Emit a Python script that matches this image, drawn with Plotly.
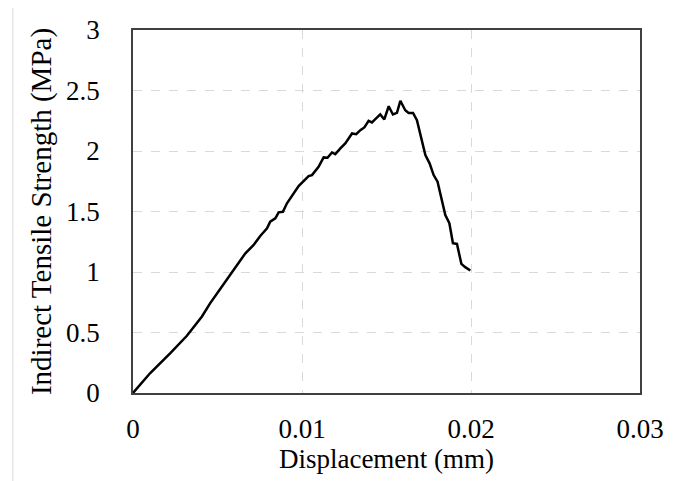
import plotly.graph_objects as go

displacement = [0, 0.00102, 0.00221, 0.00319, 0.00408, 0.00457, 0.00517, 0.00576, 0.00625,
                0.00665, 0.00714, 0.00753, 0.00793, 0.00812, 0.00842, 0.00862, 0.00887, 0.00911,
                0.0098, 0.01039, 0.01059, 0.01098, 0.01128, 0.01151, 0.01177, 0.01197, 0.01227,
                0.01256, 0.01296, 0.01321, 0.01345, 0.01369, 0.01394, 0.01414, 0.01434, 0.01463,
                0.01487, 0.01513, 0.01538, 0.01562, 0.01582, 0.01611, 0.01631, 0.01657, 0.0168,
                0.01704, 0.0173, 0.01755, 0.01779, 0.01802, 0.01828, 0.01848, 0.01872, 0.01893,
                0.01917, 0.01943, 0.01966, 0.01996]
strength = [0, 0.165, 0.33, 0.473, 0.632, 0.743, 0.861, 0.976, 1.073,
            1.155, 1.224, 1.298, 1.361, 1.416, 1.444, 1.493, 1.498, 1.568,
            1.71, 1.793, 1.801, 1.87, 1.947, 1.944, 1.988, 1.974, 2.021,
            2.063, 2.145, 2.139, 2.172, 2.195, 2.249, 2.236, 2.263, 2.302,
            2.261, 2.37, 2.302, 2.315, 2.415, 2.337, 2.315, 2.315, 2.255,
            2.104, 1.966, 1.898, 1.801, 1.746, 1.595, 1.471, 1.403, 1.238,
            1.232, 1.067, 1.04, 1.012]

x_ticks = [0, 0.01, 0.02, 0.03]
x_tick_labels = ["0", "0.01", "0.02", "0.03"]
y_ticks = [0, 0.5, 1, 1.5, 2, 2.5, 3]
y_tick_labels = ["0", "0.5", "1", "1.5", "2", "2.5", "3"]

font_family = "Liberation Serif"

fig = go.Figure()
fig.add_trace(go.Scatter(x=displacement, y=strength, mode="lines",
                         line=dict(color="black", width=2.5), showlegend=False))

# the page body has an 8px default margin, so the figure is 8px smaller
fig.update_layout(
    width=681, height=473,
    margin=dict(l=125, r=49, t=22, b=88),
    paper_bgcolor="white", plot_bgcolor="white",
    font=dict(family=font_family, size=27, color="black"),
    xaxis=dict(range=[0, 0.03], tickvals=x_ticks, ticktext=x_tick_labels,
               showgrid=True, gridcolor="#d9d9d9", griddash="dash", gridwidth=1,
               zeroline=False, showline=True, linecolor="#404040", linewidth=1.5, mirror=True,
               ticks="", ticklabelstandoff=11, automargin=False,
               tickfont=dict(family=font_family, size=27),
               title=dict(text="Displacement (mm)", font=dict(family=font_family, size=27), standoff=2)),
    yaxis=dict(range=[0, 3], tickvals=y_ticks, ticktext=y_tick_labels,
               showgrid=True, gridcolor="#d9d9d9", griddash="dash", gridwidth=1,
               zeroline=False, showline=True, linecolor="#404040", linewidth=1.5, mirror=True,
               ticks="", ticklabelstandoff=26, automargin=False,
               tickfont=dict(family=font_family, size=27),
               title=dict(text="Indirect Tensile Strength (MPa)", font=dict(family=font_family, size=29), standoff=6)),
)

fig.add_shape(type="rect", xref="paper", yref="paper",
              x0=-0.237, x1=1.0848, y0=-0.3, y1=1.2,
              line=dict(color="#d9d9d9", width=1), fillcolor="rgba(0,0,0,0)", layer="below")

fig.write_html("out.html")
